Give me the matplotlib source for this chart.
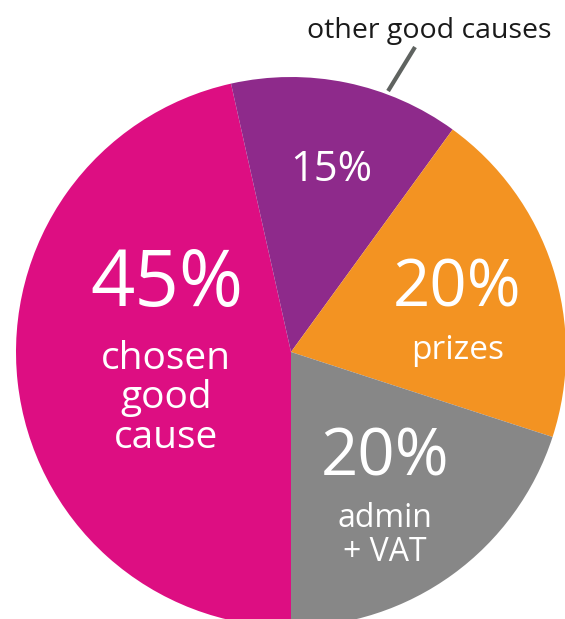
import matplotlib.pyplot as plt

# slice data, clockwise from the bottom
labels = ["chosen\ngood\ncause", "other good causes", "prizes", "admin\n+ VAT"]
pct_text = ["45%", "15%", "20%", "20%"]
# wedge sizes as drawn in the picture (the pink wedge is drawn a bit wider than 45%)
shares = [46.5, 13.5, 20, 20]
colors = ["#DD0E82", "#8E2A8B", "#F39322", "#878787"]

plt.rcParams['font.family'] = ['Open Sans', 'DejaVu Sans']

fig = plt.figure(figsize=(5.65, 6.19), dpi=100)
# circle centre at about (291, 352) px from top-left, radius 275 px
R = 275
ax = fig.add_axes([(291 - R) / 565, (267 - R) / 619, 2 * R / 565, 2 * R / 619])
ax.pie(shares, colors=colors, startangle=270, counterclock=False, radius=1,
       wedgeprops=dict(linewidth=0))
ax.set_xlim(-1, 1)
ax.set_ylim(-1, 1)
ax.set_aspect('equal')
ax.axis('off')

white = dict(color='white', ha='center', va='center')

# big chosen cause slice
ax.text(-0.450, 0.242, pct_text[0], fontsize=56, **white)
ax.text(-0.455, -0.169, labels[0], fontsize=28, linespacing=1.05, **white)

# other good causes
ax.text(0.145, 0.662, pct_text[1], fontsize=30, **white)
ax.text(0.504, 1.167, labels[1], fontsize=20.5, color='#1a1a1a', ha='center', va='center',
        clip_on=False)
ax.plot([0.451, 0.353], [1.109, 0.949], color='#5f6360', lw=3, clip_on=False,
        solid_capstyle='butt')

# prizes
ax.text(0.605, 0.227, pct_text[2], fontsize=47, **white)
ax.text(0.605, 0.007, labels[2], fontsize=24, **white)

# admin + VAT
ax.text(0.342, -0.389, pct_text[3], fontsize=47, **white)
ax.text(0.342, -0.667, labels[3], fontsize=23, linespacing=1.06, **white)

fig.savefig("out.png", dpi=100)
